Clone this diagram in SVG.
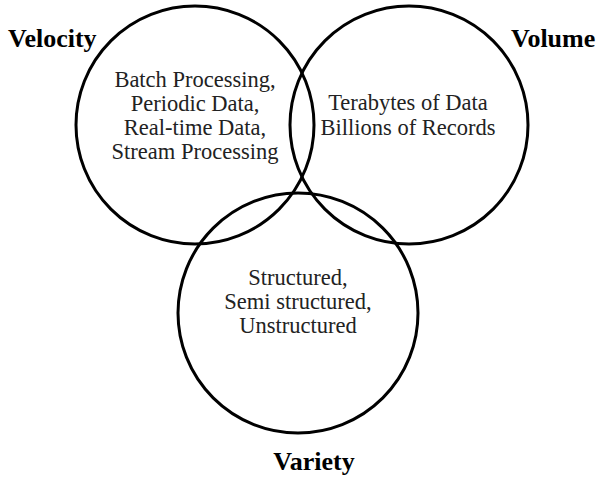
<svg xmlns="http://www.w3.org/2000/svg" width="598" height="479" viewBox="0 0 598 479">
<style>
.c{fill:none;stroke:#000;stroke-width:3}
.t{font-family:'Liberation Serif','Times New Roman','DejaVu Serif',serif;font-size:22.5px;fill:#222;text-anchor:middle}
.h{font-family:'Liberation Serif','Times New Roman','DejaVu Serif',serif;font-size:26px;font-weight:bold;fill:#000}
</style>
<rect width="598" height="479" fill="#fff"/>
<g id="velocity">
<circle class="c" cx="195" cy="125" r="119"/>
<text class="h" x="8" y="47">Velocity</text>
<text class="t" x="195" y="87">Batch Processing,</text>
<text class="t" x="195" y="111">Periodic Data,</text>
<text class="t" x="195" y="135">Real-time Data,</text>
<text class="t" x="195" y="159">Stream Processing</text>
</g>
<g id="volume">
<circle class="c" cx="409" cy="125" r="119"/>
<text class="h" x="511" y="47">Volume</text>
<text class="t" x="408" y="110">Terabytes of Data</text>
<text class="t" x="408" y="135">Billions of Records</text>
</g>
<g id="variety">
<circle class="c" cx="298" cy="313" r="120"/>
<text class="h" x="314" y="470" text-anchor="middle">Variety</text>
<text class="t" x="298" y="285">Structured,</text>
<text class="t" x="298" y="309">Semi structured,</text>
<text class="t" x="298" y="333">Unstructured</text>
</g>
<g id="connectors"/>
</svg>
